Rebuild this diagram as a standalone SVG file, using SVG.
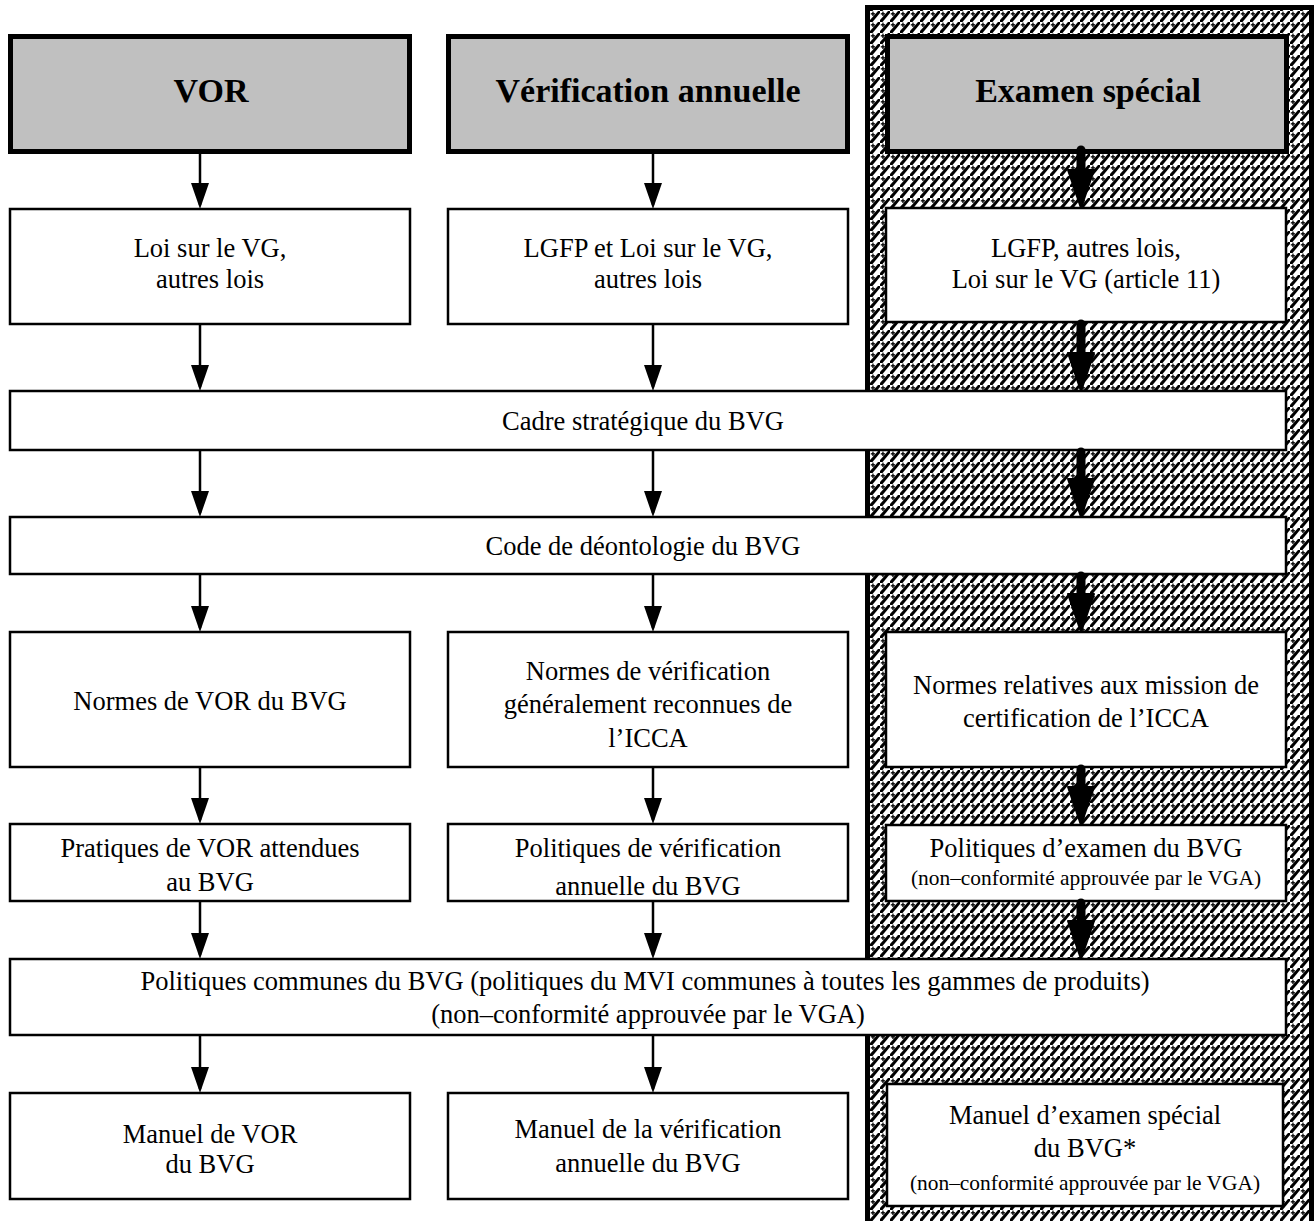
<svg xmlns="http://www.w3.org/2000/svg" width="1314" height="1221" viewBox="0 0 1314 1221">
<style>
.hdr{fill:#c0c0c0;stroke:#000;stroke-width:5}
.box{fill:#fff;stroke:#000;stroke-width:2.5}
.ht{font-family:"Liberation Serif","Times New Roman",serif;font-weight:bold;font-size:34px;text-anchor:middle;fill:#000}
.t{font-family:"Liberation Serif","Times New Roman",serif;font-size:26.5px;text-anchor:middle;fill:#000}
.s{font-family:"Liberation Serif","Times New Roman",serif;font-size:21.4px;text-anchor:middle;fill:#000}
.thin{stroke:#000;stroke-width:2.5;fill:none}
.thick{stroke:#000;stroke-width:9;stroke-linecap:round;fill:none}
</style>
<defs>
<pattern id="pat" patternUnits="userSpaceOnUse" width="10" height="11">
<rect width="10" height="11" fill="#fff"/>
<polygon points="0,9 8,0 10,0 10,2 2.5,11 0,11" fill="#000"/>
<rect x="0.8" y="2.2" width="4.2" height="1.3" fill="#000"/>
<rect x="2.3" y="0.6" width="1.3" height="4.4" fill="#000"/>
</pattern>
<marker id="ah" markerUnits="userSpaceOnUse" markerWidth="26" markerHeight="18" refX="22" refY="9" orient="auto">
<path d="M0,0 L26,9 L0,18 Z" fill="#000"/>
</marker>
<marker id="ahb" markerUnits="userSpaceOnUse" markerWidth="42" markerHeight="30" refX="20" refY="15" orient="auto">
<path d="M2,2 L40,15 L2,28 Z" fill="#000" stroke="#000" stroke-width="2" stroke-linejoin="round"/>
</marker>
</defs>
<rect width="1314" height="1221" fill="#fff"/>
<g id="special-zone">
<rect x="867.5" y="7.5" width="444" height="1230" fill="url(#pat)" stroke="#000" stroke-width="5"/>
</g>
<g id="n-vor"><rect class="hdr" x="10.5" y="36.5" width="399" height="115"/><text class="ht" x="211" y="102">VOR</text></g>
<g id="n-verif"><rect class="hdr" x="448.5" y="36.5" width="399" height="115"/><text class="ht" x="648" y="102">Vérification annuelle</text></g>
<g id="n-exam"><rect class="hdr" x="887.5" y="36.5" width="399" height="115"/><text class="ht" x="1088" y="102">Examen spécial</text></g>
<g id="n-loi1"><rect class="box" x="10" y="209" width="400" height="115"/><text class="t" x="210" y="257">Loi sur le VG,</text><text class="t" x="210" y="288">autres lois</text></g>
<g id="n-loi2"><rect class="box" x="448" y="209" width="400" height="115"/><text class="t" x="648" y="257">LGFP et Loi sur le VG,</text><text class="t" x="648" y="288">autres lois</text></g>
<g id="n-loi3"><rect class="box" x="886" y="208" width="400" height="114"/><text class="t" x="1086" y="257">LGFP, autres lois,</text><text class="t" x="1086" y="288">Loi sur le VG (article 11)</text></g>
<g id="n-cadre"><rect class="box" x="10" y="391" width="1276" height="59"/><text class="t" x="643" y="430">Cadre stratégique du BVG</text></g>
<g id="n-code"><rect class="box" x="10" y="517" width="1276" height="57"/><text class="t" x="643" y="555">Code de déontologie du BVG</text></g>
<g id="n-normes1"><rect class="box" x="10" y="632" width="400" height="135"/><text class="t" x="210" y="710">Normes de VOR du BVG</text></g>
<g id="n-normes2"><rect class="box" x="448" y="632" width="400" height="135"/><text class="t" x="648" y="680">Normes de vérification</text><text class="t" x="648" y="713">généralement reconnues de</text><text class="t" x="648" y="747">l’ICCA</text></g>
<g id="n-normes3"><rect class="box" x="886" y="632" width="400" height="135"/><text class="t" x="1086" y="694">Normes relatives aux mission de</text><text class="t" x="1086" y="727">certification de l’ICCA</text></g>
<g id="n-prat1"><rect class="box" x="10" y="824" width="400" height="77"/><text class="t" x="210" y="857">Pratiques de VOR attendues</text><text class="t" x="210" y="891">au BVG</text></g>
<g id="n-prat2"><rect class="box" x="448" y="824" width="400" height="77"/><text class="t" x="648" y="857">Politiques de vérification</text><text class="t" x="648" y="895">annuelle du BVG</text></g>
<g id="n-prat3"><rect class="box" x="886" y="825" width="400" height="76"/><text class="t" x="1086" y="857">Politiques d’examen du BVG</text><text class="s" x="1086" y="885">(non–conformité approuvée par le VGA)</text></g>
<g id="n-communes"><rect class="box" x="10" y="959" width="1276" height="76"/><text class="t" x="645" y="990">Politiques communes du BVG (politiques du MVI communes à toutes les gammes de produits)</text><text class="t" x="648" y="1023">(non–conformité approuvée par le VGA)</text></g>
<g id="n-man1"><rect class="box" x="10" y="1093" width="400" height="106"/><text class="t" x="210" y="1143">Manuel de VOR</text><text class="t" x="210" y="1173">du BVG</text></g>
<g id="n-man2"><rect class="box" x="448" y="1093" width="400" height="106"/><text class="t" x="648" y="1138">Manuel de la vérification</text><text class="t" x="648" y="1172">annuelle du BVG</text></g>
<g id="n-man3"><rect class="box" x="887" y="1084" width="396" height="122"/><text class="t" x="1085" y="1124">Manuel d’examen spécial</text><text class="t" x="1085" y="1157">du BVG*</text><text class="s" x="1085" y="1190">(non–conformité approuvée par le VGA)</text></g>
<g id="connectors">
<line class="thin" x1="200" y1="154" x2="200" y2="205" marker-end="url(#ah)"/>
<line class="thin" x1="200" y1="324" x2="200" y2="387" marker-end="url(#ah)"/>
<line class="thin" x1="200" y1="450" x2="200" y2="513" marker-end="url(#ah)"/>
<line class="thin" x1="200" y1="574" x2="200" y2="628" marker-end="url(#ah)"/>
<line class="thin" x1="200" y1="767" x2="200" y2="820" marker-end="url(#ah)"/>
<line class="thin" x1="200" y1="901" x2="200" y2="955" marker-end="url(#ah)"/>
<line class="thin" x1="200" y1="1035" x2="200" y2="1089" marker-end="url(#ah)"/>
<line class="thin" x1="653" y1="154" x2="653" y2="205" marker-end="url(#ah)"/>
<line class="thin" x1="653" y1="324" x2="653" y2="387" marker-end="url(#ah)"/>
<line class="thin" x1="653" y1="450" x2="653" y2="513" marker-end="url(#ah)"/>
<line class="thin" x1="653" y1="574" x2="653" y2="628" marker-end="url(#ah)"/>
<line class="thin" x1="653" y1="767" x2="653" y2="820" marker-end="url(#ah)"/>
<line class="thin" x1="653" y1="901" x2="653" y2="955" marker-end="url(#ah)"/>
<line class="thin" x1="653" y1="1035" x2="653" y2="1089" marker-end="url(#ah)"/>
<line class="thick" x1="1081" y1="150" x2="1081" y2="188" marker-end="url(#ahb)"/>
<line class="thick" x1="1081" y1="324" x2="1081" y2="371" marker-end="url(#ahb)"/>
<line class="thick" x1="1081" y1="452" x2="1081" y2="497" marker-end="url(#ahb)"/>
<line class="thick" x1="1081" y1="576" x2="1081" y2="612" marker-end="url(#ahb)"/>
<line class="thick" x1="1081" y1="769" x2="1081" y2="805" marker-end="url(#ahb)"/>
<line class="thick" x1="1081" y1="903" x2="1081" y2="939" marker-end="url(#ahb)"/>
</g>
</svg>
